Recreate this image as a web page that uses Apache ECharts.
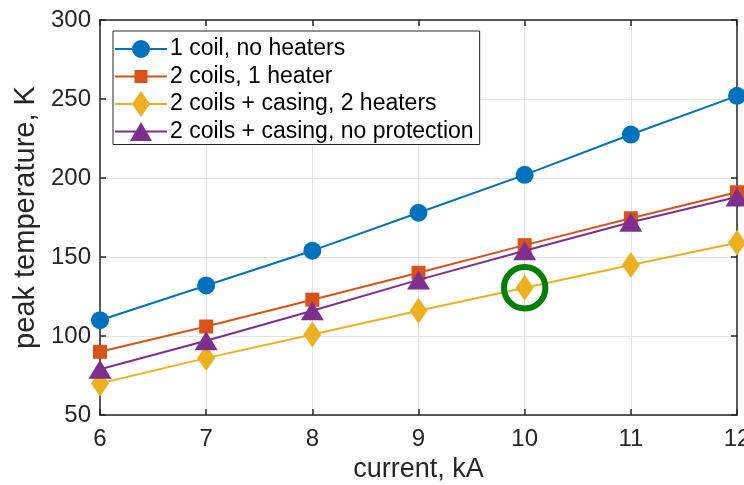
<!DOCTYPE html>
<html>
<head>
<meta charset="utf-8">
<script src="https://cdn.jsdelivr.net/npm/echarts@6/dist/echarts.min.js"></script>
<style>html,body{margin:0;padding:0;background:#fff}#c{width:744px;height:485px}</style>
</head>
<body>
<div id="c"></div>
<script>
const current = [6, 7, 8, 9, 10, 11, 12];
const oneCoilNoHeaters = [110, 132, 154, 178, 202, 227.5, 252];
const twoCoilsOneHeater = [90, 106, 123, 140, 157.5, 174.5, 191];
const casingTwoHeaters = [70, 86, 101, 116, 130.5, 145, 159];
const casingNoProtection = [79, 97, 116, 135.5, 154, 172, 188];
const highlight = [[10, 130.5]];
const yTicks = [50, 100, 150, 200, 250, 300];
const names = ['1 coil, no heaters', '2 coils, 1 heater', '2 coils + casing, 2 heaters', '2 coils + casing, no protection'];

const colors = ['#0072BD', '#D95319', '#EDB120', '#7E2F8E'];
const symbols = ['circle', 'rect', 'diamond', 'triangle'];
const sizes = [18, 14, [18, 26], [23, 19]];
const values = [oneCoilNoHeaters, twoCoilsOneHeater, casingTwoHeaters, casingNoProtection];
// legend icons: line sample + marker (52 x 26 box)
const legendIcons = [
  'path://M0,12H17V14H0Z M35,12H52V14H35Z M17,13A9,9 0 1,1 35,13A9,9 0 1,1 17,13Z',
  'path://M0,12H20V14H0Z M32,12H52V14H32Z M19.5,6.5H32.5V19.5H19.5Z',
  'path://M0,12H17.5V14H0Z M34.5,12H52V14H34.5Z M26,0L35,13L26,26L17,13Z',
  'path://M0,12H20.7V14H0Z M31.3,12H52V14H31.3Z M26,3.5L37,22.5L15,22.5Z'
];
const font = 'Liberation Sans, Arial, sans-serif';
const ax = '#262626';

const series = values.map((v, i) => ({
  name: names[i],
  type: 'line',
  data: current.map((x, j) => [x, v[j]]),
  symbol: symbols[i],
  symbolSize: sizes[i],
  lineStyle: { color: colors[i], width: 2 },
  itemStyle: { color: colors[i], opacity: 1 },
  z: 3 + i
}));
series.push({
  name: 'highlight',
  type: 'scatter',
  data: highlight,
  symbol: 'circle',
  symbolSize: 41.5,
  itemStyle: { color: 'none', borderColor: '#008000', borderWidth: 6, opacity: 1 },
  z: 10,
  silent: true
});

const chart = echarts.init(document.getElementById('c'), null, { renderer: 'canvas' });
const baseAxis = {
  axisLine: { lineStyle: { color: ax, width: 1.5 } },
  axisTick: { inside: true, length: 6, lineStyle: { color: ax, width: 1.5 } },
  splitLine: { show: false }
};
chart.setOption({
  animation: false,
  backgroundColor: '#fff',
  grid: { left: 100, right: 7, top: 20, bottom: 70, containLabel: false, outerBoundsMode: 'none' },
  legend: {
    data: names.map((n, i) => ({ name: n, icon: legendIcons[i] })),
    orient: 'vertical',
    left: 113, top: 31,
    itemWidth: 52, itemHeight: 26, itemGap: 1.5,
    symbolKeepAspect: true,
    padding: [5, 6, 0, 2],
    backgroundColor: '#fff',
    borderColor: ax, borderWidth: 1, borderRadius: 0,
    textStyle: { fontFamily: font, fontSize: 23, lineHeight: 26, color: '#000', padding: [0, 0, 0, -2] }
  },
  xAxis: [
    Object.assign({}, baseAxis, {
      type: 'value', min: 6, max: 12, interval: 1, position: 'bottom',
      name: 'current, kA', nameLocation: 'middle', nameGap: 36,
      nameTextStyle: { fontFamily: font, fontSize: 27, color: ax },
      axisLabel: { fontFamily: font, fontSize: 24, color: ax, margin: 12 },
      splitLine: { show: true, lineStyle: { color: '#e3e3e3', width: 1 } }
    }),
    Object.assign({}, baseAxis, {
      type: 'value', min: 6, max: 12, interval: 1, position: 'top',
      axisLabel: { show: false }
    })
  ],
  yAxis: [
    Object.assign({}, baseAxis, {
      type: 'value', min: yTicks[0], max: yTicks[yTicks.length - 1], interval: 50, position: 'left',
      name: 'peak temperature, K', nameLocation: 'middle', nameGap: 54,
      nameTextStyle: { fontFamily: font, fontSize: 29, color: ax },
      axisLabel: { fontFamily: font, fontSize: 24, color: ax, margin: 9 },
      splitLine: { show: true, lineStyle: { color: '#e3e3e3', width: 1 } }
    }),
    Object.assign({}, baseAxis, {
      type: 'value', min: yTicks[0], max: yTicks[yTicks.length - 1], interval: 50, position: 'right',
      axisLabel: { show: false }
    })
  ],
  series: series
});
</script>
</body>
</html>
